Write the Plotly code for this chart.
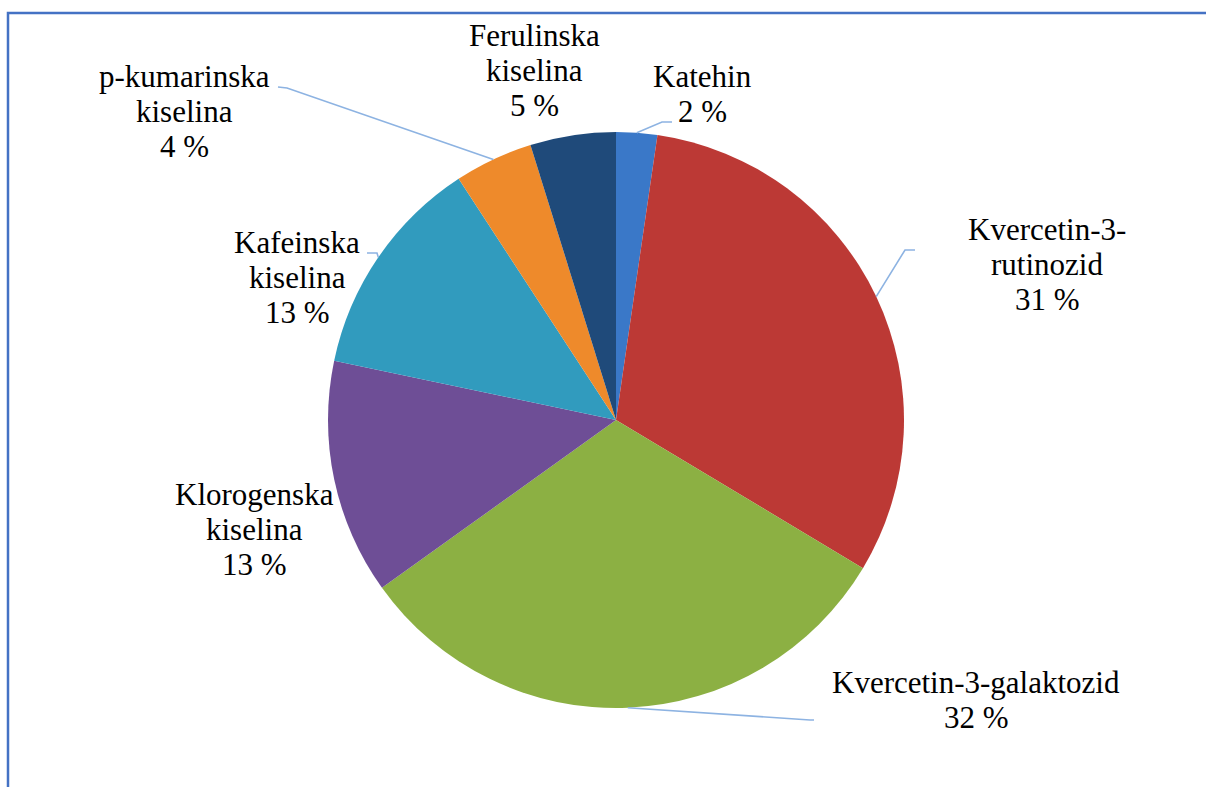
import math
import plotly.graph_objects as go

# ---- data ----
names = ["Katehin", "Kvercetin-3-rutinozid", "Kvercetin-3-galaktozid",
         "Klorogenska kiselina", "Kafeinska kiselina", "p-kumarinska kiselina",
         "Ferulinska kiselina"]
values = [2.3, 31.3, 31.5, 13.2, 12.5, 4.4, 4.8]
pct_labels = ["2 %", "31 %", "32 %", "13 %", "13 %", "4 %", "5 %"]
label_lines = [
    ["Katehin", "2 %"],
    ["Kvercetin-3-", "rutinozid", "31 %"],
    ["Kvercetin-3-galaktozid", "32 %"],
    ["Klorogenska", "kiselina", "13 %"],
    ["Kafeinska", "kiselina", "13 %"],
    ["p-kumarinska", "kiselina", "4 %"],
    ["Ferulinska", "kiselina", "5 %"],
]
colors = ["#3A78C8", "#BC3935", "#8CB043", "#6E4E96", "#319BBE", "#EE8A2B", "#1F4A7A"]

W, H = 1206, 787
CX, CY, R = 616, 420, 288

# label layout (pixel): centre x, first baseline
label_pos = [(702, 87), (1047, 240), (976, 693), (254, 505), (297, 253), (184, 87), (534, 46)]
LINE_H = 35
FONT_SIZE = 31
FONT = "Liberation Serif"
# leader line elbow / end points (pixel); None = no leader
leaders = [((662, 122), (672, 122)), ((905, 250), (915, 250)), ((810, 720), (814, 720)),
           None, ((377, 253), (367, 253)), ((287, 88), (278, 87)), None]

def px(x):
    return x / W

def py(y):
    return 1 - y / H

fig = go.Figure(go.Pie(
    labels=names, values=values, sort=False, direction="clockwise", rotation=0,
    marker=dict(colors=colors, line=dict(width=0)),
    textinfo="none", hoverinfo="skip", showlegend=False,
    domain=dict(x=[px(CX - R), px(CX + R)], y=[py(CY + R), py(CY - R)]),
))

annotations = []
for (cx, b0), lines in zip(label_pos, label_lines):
    for i, t in enumerate(lines):
        b = b0 + i * LINE_H
        annotations.append(dict(
            x=px(cx), y=py(b - 0.33 * FONT_SIZE), xref="paper", yref="paper",
            text=t, showarrow=False, xanchor="center", yanchor="middle",
            font=dict(family=FONT, size=FONT_SIZE, color="#000000"),
        ))

shapes = []
total = sum(values)
cum = 0
for v, ld in zip(values, leaders):
    mid = (cum + v / 2) / total * 2 * math.pi
    cum += v
    if ld is None:
        continue
    sx = CX + R * math.sin(mid)
    sy = CY - R * math.cos(mid)
    (ex, ey), (fx, fy) = ld
    path = f"M {px(sx)},{py(sy)} L {px(ex)},{py(ey)} L {px(fx)},{py(fy)}"
    shapes.append(dict(type="path", xref="paper", yref="paper", path=path,
                       line=dict(color="#8DB3E2", width=1.6)))

# outer frame
shapes.append(dict(type="rect", xref="paper", yref="paper",
                   x0=px(8), x1=px(1215), y0=py(800), y1=py(13),
                   line=dict(color="#4472C4", width=2.5), fillcolor="rgba(0,0,0,0)"))

fig.update_layout(
    width=W, height=H, margin=dict(l=0, r=0, t=0, b=0),
    paper_bgcolor="white", plot_bgcolor="white",
    font=dict(family=FONT),
    annotations=annotations, shapes=shapes,
)

fig.write_html("out.html", config={"displayModeBar": False},
               post_script="document.body.style.margin='0';document.body.style.overflow='hidden';")
